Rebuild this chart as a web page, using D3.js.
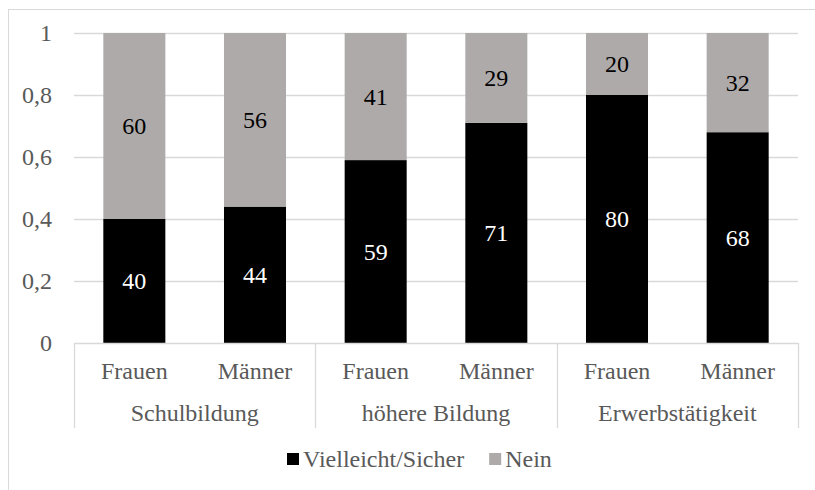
<!DOCTYPE html>
<html>
<head>
<meta charset="utf-8">
<script src="https://cdn.jsdelivr.net/npm/d3@7"></script>
<style>
  body { margin: 0; background: #fff; }
</style>
</head>
<body>
<div id="chart"></div>
<script>
// stacked shares per group / gender
const groups = ['Schulbildung', 'höhere Bildung', 'Erwerbstätigkeit'];
const genders = ['Frauen', 'Männer'];
const yesValues = [40, 44, 59, 71, 80, 68];   // Vielleicht/Sicher
const noValues = [60, 56, 41, 29, 20, 32];    // Nein
const yTicks = [0, 0.2, 0.4, 0.6, 0.8, 1];
const seriesNames = ['Vielleicht/Sicher', 'Nein'];

const W = 815, H = 490;
const plot = { left: 74, right: 798, top: 33, bottom: 343 };
const textColor = '#595959';
const gridColor = '#d9d9d9';
const colors = ['#000000', '#aeaaaa'];
const fontFamily = "'Liberation Serif', 'Times New Roman', 'DejaVu Serif', serif";

const svg = d3.select('#chart').append('svg')
    .attr('width', W)
    .attr('height', H)
    .style('font-family', fontFamily);

// chart border (image is cropped at right and bottom)
svg.append('rect')
    .attr('x', 8.5).attr('y', 9.5)
    .attr('width', W + 20).attr('height', H + 20)
    .attr('fill', 'none')
    .attr('stroke', gridColor);

const bars = [];
groups.forEach((g, gi) => genders.forEach((s, si) => {
    const i = gi * 2 + si;
    bars.push({ key: g + '|' + s, group: g, gender: s, yes: yesValues[i], no: noValues[i] });
}));

const x = d3.scaleBand()
    .domain(bars.map(d => d.key))
    .range([plot.left, plot.right])
    .paddingInner(0.486)
    .paddingOuter(0.243);

const xGroup = d3.scaleBand()
    .domain(groups)
    .range([plot.left, plot.right]);

const y = d3.scaleLinear()
    .domain([0, 1])
    .range([plot.bottom, plot.top]);

// gridlines
svg.append('g')
    .selectAll('line')
    .data(yTicks.filter(t => t > 0))
    .join('line')
    .attr('x1', plot.left).attr('x2', plot.right)
    .attr('y1', d => Math.round(y(d)) + 0.5)
    .attr('y2', d => Math.round(y(d)) + 0.5)
    .attr('stroke', gridColor)
    .attr('stroke-width', 1.3);

// y tick labels
const fmt = d => String(d).replace('.', ',');
svg.append('g')
    .selectAll('text')
    .data(yTicks)
    .join('text')
    .attr('x', 52)
    .attr('y', d => y(d))
    .attr('dy', '0.35em')
    .attr('text-anchor', 'end')
    .style('font-family', fontFamily)
    .style('font-size', '24px')
    .style('fill', textColor)
    .text(fmt);

// stacked bars
const stackData = bars.map(d => [
    { key: d.key, y0: 0, y1: d.yes / 100, v: d.yes, s: 0 },
    { key: d.key, y0: d.yes / 100, y1: 1, v: d.no, s: 1 }
]).flat();

svg.append('g')
    .selectAll('rect')
    .data(stackData)
    .join('rect')
    .attr('x', d => x(d.key))
    .attr('width', x.bandwidth())
    .attr('y', d => y(d.y1))
    .attr('height', d => y(d.y0) - y(d.y1))
    .attr('fill', d => colors[d.s]);

// data labels
svg.append('g')
    .selectAll('text')
    .data(stackData)
    .join('text')
    .attr('x', d => x(d.key) + x.bandwidth() / 2)
    .attr('y', d => y((d.y0 + d.y1) / 2))
    .attr('dy', '0.35em')
    .attr('text-anchor', 'middle')
    .style('font-family', fontFamily)
    .style('font-size', '24px')
    .style('fill', d => d.s === 0 ? '#ffffff' : '#000000')
    .text(d => d.v);

// category axis
svg.append('line')
    .attr('x1', plot.left).attr('x2', plot.right)
    .attr('y1', plot.bottom + 0.5).attr('y2', plot.bottom + 0.5)
    .attr('stroke', gridColor)
    .attr('stroke-width', 1.3);

const sepPos = groups.map(g => xGroup(g)).concat([plot.right]);
svg.append('g')
    .selectAll('line')
    .data(sepPos)
    .join('line')
    .attr('x1', d => Math.round(d) + 0.5).attr('x2', d => Math.round(d) + 0.5)
    .attr('y1', plot.bottom).attr('y2', 428)
    .attr('stroke', gridColor)
    .attr('stroke-width', 1.3);

svg.append('g')
    .selectAll('text')
    .data(bars)
    .join('text')
    .attr('x', d => x(d.key) + x.bandwidth() / 2)
    .attr('y', 379)
    .attr('text-anchor', 'middle')
    .style('font-family', fontFamily)
    .style('font-size', '24px')
    .style('fill', textColor)
    .text(d => d.gender);

svg.append('g')
    .selectAll('text')
    .data(groups)
    .join('text')
    .attr('x', d => xGroup(d) + xGroup.bandwidth() / 2)
    .attr('y', 421)
    .attr('text-anchor', 'middle')
    .style('font-family', fontFamily)
    .style('font-size', '24px')
    .style('fill', textColor)
    .text(d => d);

// legend
const legend = svg.append('g');
let cursor = 0;
seriesNames.forEach((name, i) => {
    const item = legend.append('g').attr('transform', `translate(${cursor},0)`);
    item.append('rect')
        .attr('x', 0).attr('y', 453)
        .attr('width', 12).attr('height', 12)
        .attr('fill', colors[i]);
    const t = item.append('text')
        .attr('x', 16).attr('y', 467)
        .style('font-family', fontFamily)
        .style('font-size', '24px')
        .style('fill', textColor)
        .text(name);
    cursor += 16 + t.node().getComputedTextLength() + 25;
});
const legendWidth = cursor - 25;
legend.attr('transform', `translate(${Math.round(419 - legendWidth / 2)},0)`);
</script>
</body>
</html>
